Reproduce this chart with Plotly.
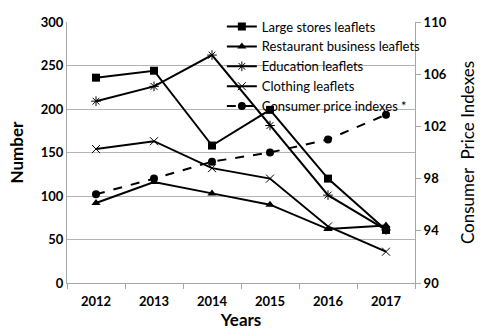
import plotly.graph_objects as go

years = ["2012", "2013", "2014", "2015", "2016", "2017"]
large_stores = [236, 244, 158, 199, 120, 61]
restaurant = [92, 116, 103, 90, 62, 66]
education = [209, 226, 262, 181, 101, 61]
clothing = [154, 163, 132, 120, 65, 36]
cpi = [96.8, 98.0, 99.3, 100.0, 101.0, 102.9]

FONT = "Lato"
fig = go.Figure()
line = dict(color="black", width=2)
fig.add_trace(go.Scatter(x=years, y=large_stores, name="Large stores leaflets", mode="lines+markers",
                         line=line, marker=dict(symbol="square", size=8, color="black")))
fig.add_trace(go.Scatter(x=years, y=restaurant, name="Restaurant business leaflets", mode="lines+markers",
                         line=line, marker=dict(symbol="triangle-up", size=8, color="black")))
fig.add_trace(go.Scatter(x=years, y=education, name="Education leaflets", mode="lines+markers",
                         line=line, marker=dict(symbol="asterisk-open", size=8, color="black",
                                                line=dict(color="black", width=1))))
fig.add_trace(go.Scatter(x=years, y=clothing, name="Clothing leaflets", mode="lines+markers",
                         line=line, marker=dict(symbol="x-thin-open", size=8, color="black",
                                                line=dict(color="black", width=1))))
fig.add_trace(go.Scatter(x=years, y=cpi, name="Consumer price indexes *", mode="lines+markers", yaxis="y2",
                         line=dict(color="black", width=2, dash="dash"),
                         marker=dict(symbol="circle", size=8, color="black")))

fig.update_layout(
    width=487, height=336,
    margin=dict(l=67, r=68, t=12, b=53),
    paper_bgcolor="white", plot_bgcolor="white",
    font=dict(family=FONT, color="black", size=13),
    xaxis=dict(type="category", range=[-0.5, 5.5], showline=True, linecolor="#a6a6a6", linewidth=1,
               ticks="outside", tickson="boundaries", ticklen=5, tickcolor="#a6a6a6",
               ticklabelstandoff=6,
               tickfont=dict(family=FONT, size=13, weight="bold"),
               title=dict(text="Years", font=dict(family=FONT, size=17, weight="bold"), standoff=4),
               showgrid=False, zeroline=False),
    yaxis=dict(range=[0, 300], dtick=50, showgrid=True, gridcolor="#b3b3b3", gridwidth=1,
               showline=True, linecolor="#a6a6a6", ticks="", zeroline=False,
               tickfont=dict(family=FONT, size=13, weight="bold"),
               title=dict(text="Number", font=dict(family=FONT, size=17, weight="bold"), standoff=12)),
    yaxis2=dict(range=[90, 110], tick0=90, dtick=4, overlaying="y", side="right", showgrid=False,
                showline=True, linecolor="#a6a6a6", ticks="outside", ticklen=5, tickcolor="#a6a6a6",
                zeroline=False, tickfont=dict(family=FONT, size=13, weight="bold"),
                title=dict(text="Consumer  Price Indexes", font=dict(family=FONT, size=17), standoff=16)),
    legend=dict(x=0.445, y=1.04, xanchor="left", yanchor="top", bgcolor="rgba(0,0,0,0)",
                font=dict(family=FONT, size=13), itemwidth=30, tracegroupgap=0),
    showlegend=True,
)

fig.write_html("out.html")
